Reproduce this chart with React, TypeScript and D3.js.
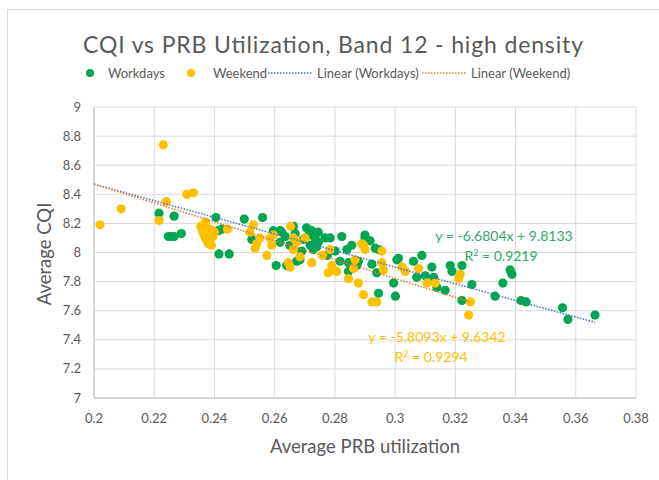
import React from "react";
import * as d3 from "d3";

const xTicks = [0.2, 0.22, 0.24, 0.26, 0.28, 0.3, 0.32, 0.34, 0.36, 0.38];
const yTicks = [7, 7.2, 7.4, 7.6, 7.8, 8, 8.2, 8.4, 8.6, 8.8, 9];

const workdays: [number, number][] = [
  [0.2216, 8.27], [0.2266, 8.25], [0.2247, 8.11], [0.2256, 8.11], [0.2266, 8.11], [0.229, 8.13],
  [0.2405, 8.24], [0.2394, 8.14], [0.2413, 8.15], [0.2424, 8.16], [0.2415, 7.99], [0.2449, 7.99],
  [0.2499, 8.23], [0.2524, 8.09], [0.256, 8.24], [0.2596, 8.15], [0.2618, 8.15], [0.2624, 8.14],
  [0.2618, 8.07], [0.2605, 7.91], [0.264, 7.91], [0.2662, 8.18], [0.2668, 8.13], [0.2673, 7.94],
  [0.2684, 7.95], [0.2695, 8.09], [0.2706, 8.17], [0.2718, 8.05], [0.2723, 8.15], [0.2734, 8.1],
  [0.274, 8.04], [0.2745, 8.07], [0.2713, 8.12], [0.2745, 8.14], [0.2728, 8.02], [0.269, 8.01],
  [0.265, 8.05], [0.2635, 8.11], [0.2767, 8.1], [0.2775, 7.98], [0.2784, 8.1], [0.2801, 8.01],
  [0.2817, 7.94], [0.2823, 8.11], [0.284, 8.02], [0.2845, 7.93], [0.2845, 7.87], [0.2856, 8.05],
  [0.2873, 7.91], [0.2878, 7.94], [0.29, 8.12], [0.29, 8.1], [0.2917, 8.08], [0.2923, 7.92],
  [0.2934, 8.03], [0.2945, 8.02], [0.2939, 7.86], [0.2945, 7.72], [0.2995, 7.79], [0.3001, 7.7],
  [0.3006, 7.95], [0.3011, 7.96], [0.3061, 7.94], [0.3072, 7.83], [0.3089, 7.98], [0.31, 7.84],
  [0.3122, 7.9], [0.3128, 7.83], [0.3139, 7.76], [0.3166, 7.74], [0.3183, 7.91], [0.3189, 7.87],
  [0.3222, 7.91], [0.3222, 7.67], [0.3255, 7.78], [0.3332, 7.7], [0.3358, 7.79], [0.3382, 7.88],
  [0.3388, 7.85], [0.3418, 7.67], [0.3435, 7.66], [0.3556, 7.62], [0.3574, 7.54], [0.3664, 7.57],
];

const weekend: [number, number][] = [
  [0.202, 8.19], [0.209, 8.3], [0.223, 8.74], [0.224, 8.35], [0.2216, 8.22], [0.2308, 8.4],
  [0.233, 8.41], [0.237, 8.21], [0.2355, 8.18], [0.236, 8.15], [0.2365, 8.12], [0.237, 8.1],
  [0.2375, 8.08], [0.238, 8.06], [0.239, 8.05], [0.2365, 8.17], [0.238, 8.13], [0.2385, 8.16],
  [0.2395, 8.11], [0.24, 8.14], [0.2443, 8.16], [0.2529, 8.19], [0.2518, 8.14], [0.2535, 8.03],
  [0.254, 8.06], [0.2551, 8.1], [0.2574, 7.98], [0.2585, 8.1], [0.259, 8.05], [0.2596, 8.12],
  [0.2653, 8.18], [0.2651, 7.9], [0.2645, 7.93], [0.2662, 8.02], [0.2662, 8.1], [0.2673, 8.07],
  [0.2684, 7.97], [0.2701, 8.1], [0.2723, 7.93], [0.2759, 7.98], [0.2778, 7.86], [0.2784, 8.02],
  [0.279, 7.91], [0.2795, 7.88], [0.2806, 7.87], [0.2845, 7.82], [0.2862, 7.89], [0.2867, 7.95],
  [0.2878, 7.79], [0.2889, 8.06], [0.2895, 8.05], [0.29, 8.02], [0.2895, 7.71], [0.2923, 7.66],
  [0.2939, 7.66], [0.2956, 8.01], [0.2956, 7.93], [0.2961, 7.88], [0.3023, 7.9], [0.3034, 7.87],
  [0.3078, 7.89], [0.3106, 7.79], [0.3133, 7.79], [0.3211, 7.82], [0.3216, 7.85], [0.325, 7.66],
  [0.3244, 7.57],
];

// trend lines as drawn in the picture (start and end points)
const trendWork: [number, number][] = [[0.2, 8.47], [0.3664, 7.52]];
const trendWeek: [number, number][] = [[0.2, 8.47], [0.3249, 7.66]];
const eqWork = ["y = -6.6804x + 9.8133", "0.9219"];
const eqWeek = ["y = -5.8093x + 9.6342", "0.9294"];

const GREEN = "#00A651";
const EQGREEN = "#33A66A";
const YELLOW = "#FFC000";
const BLUE = "#4472C4";
const ORANGE = "#ED7D31";
const TEXT = "#595959";
const FONT = "Lato, 'Open Sans', sans-serif";

export default function App() {
  const x = d3.scaleLinear().domain([0.2, 0.38]).range([94, 636]);
  const y = d3.scaleLinear().domain([7, 9]).range([398, 107]);
  const line = d3.line<[number, number]>().x((d) => x(d[0])).y((d) => y(d[1]));
  const fmt = (v: number) => String(+v.toFixed(2));

  return (
    <svg
      width={659}
      height={480}
      style={{ position: "absolute", left: 0, top: 0, background: "#fff" }}
      fontFamily={FONT}
    >
      <rect x={7.5} y={9.5} width={660} height={480} fill="#fff" stroke="#d9d9d9" />
      <text x={333} y={53} textAnchor="middle" fontSize={23} fill={TEXT} textLength={500} lengthAdjust="spacing">
        CQI vs PRB Utilization, Band 12 - high density
      </text>
      {/* legend */}
      <g fontSize={13} fill={TEXT}>
        <circle cx={90} cy={73} r={4} fill={GREEN} />
        <text x={108} y={77.5}>Workdays</text>
        <circle cx={191} cy={73} r={4} fill={YELLOW} />
        <text x={213} y={77.5}>Weekend</text>
        <line x1={268} x2={313} y1={73} y2={73} stroke={BLUE} strokeWidth={1.5} strokeDasharray="1.5,1.5" />
        <text x={317} y={77.5}>Linear (Workdays)</text>
        <line x1={422} x2={467} y1={73} y2={73} stroke={ORANGE} strokeWidth={1.5} strokeDasharray="1.5,1.5" />
        <text x={471} y={77.5}>Linear (Weekend)</text>
      </g>
      {/* gridlines */}
      {yTicks.map((t) => (
        <line key={"gy" + t} x1={x(0.2)} x2={x(0.38)} y1={y(t)} y2={y(t)} stroke="#d9d9d9" strokeWidth={1} />
      ))}
      {xTicks.map((t) => (
        <line key={"gx" + t} x1={x(t)} x2={x(t)} y1={y(7)} y2={y(9)} stroke="#d9d9d9" strokeWidth={1} />
      ))}
      <line x1={x(0.2)} x2={x(0.38)} y1={y(7)} y2={y(7)} stroke="#bfbfbf" />
      <line x1={x(0.2)} x2={x(0.2)} y1={y(7)} y2={y(9)} stroke="#bfbfbf" />
      {/* tick labels */}
      <g fontSize={13} fill={TEXT}>
        {yTicks.map((t) => (
          <text key={"ly" + t} x={81} y={y(t) + 4.5} textAnchor="end">
            {fmt(t)}
          </text>
        ))}
        {xTicks.map((t) => (
          <text key={"lx" + t} x={x(t)} y={423} textAnchor="middle">
            {fmt(t)}
          </text>
        ))}
      </g>
      <text x={365} y={453} textAnchor="middle" fontSize={18.5} fill={TEXT}>
        Average PRB utilization
      </text>
      <text transform="translate(51,254) rotate(-90)" textAnchor="middle" fontSize={18.5} fill={TEXT}>
        Average CQI
      </text>
      {/* points */}
      {workdays.map((d, i) => (
        <circle key={"w" + i} cx={x(d[0])} cy={y(d[1])} r={4.6} fill={GREEN} />
      ))}
      {weekend.map((d, i) => (
        <circle key={"e" + i} cx={x(d[0])} cy={y(d[1])} r={4.6} fill={YELLOW} />
      ))}
      {/* trend lines */}
      <path d={line(trendWork) || ""} stroke={BLUE} strokeWidth={1.5} strokeDasharray="1.5,1.5" fill="none" />
      <path d={line(trendWeek) || ""} stroke={ORANGE} strokeWidth={1.5} strokeDasharray="1.5,1.5" fill="none" />
      {/* equations */}
      <g fontSize={14} textAnchor="middle">
        <text x={504} y={241} fill={EQGREEN}>{eqWork[0]}</text>
        <text x={501} y={261} fill={EQGREEN}>
          R<tspan dy={-5} fontSize={9}>2</tspan>
          <tspan dy={5}> = {eqWork[1]}</tspan>
        </text>
        <text x={437} y={342} fill={YELLOW}>{eqWeek[0]}</text>
        <text x={431} y={362} fill={YELLOW}>
          R<tspan dy={-5} fontSize={9}>2</tspan>
          <tspan dy={5}> = {eqWeek[1]}</tspan>
        </text>
      </g>
    </svg>
  );
}
